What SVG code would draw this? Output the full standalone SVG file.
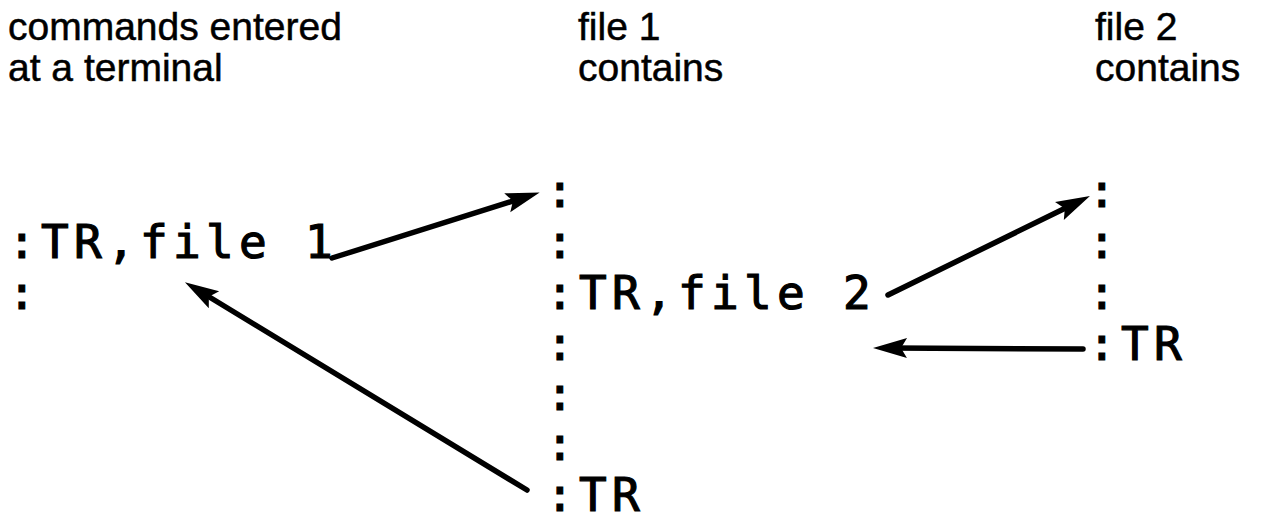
<svg xmlns="http://www.w3.org/2000/svg" width="1277" height="523" viewBox="0 0 1277 523">
<style>
.hdr{font-family:"Liberation Sans",Arial,sans-serif;font-size:39px;fill:#000;stroke:#000;stroke-width:0.5}
.code{font-family:"DejaVu Sans Mono","Liberation Mono",monospace;font-size:46px;letter-spacing:5.3px;fill:#000;stroke:#000;stroke-width:1.2}
.conn{stroke:#000;stroke-width:5.5;fill:none;stroke-linecap:round}
</style>
<defs>
<marker id="ah" viewBox="-18 -11 38 22" refX="0" refY="0" markerWidth="38" markerHeight="22" markerUnits="userSpaceOnUse" orient="auto">
<path d="M18,0 L-16,-10 L-10,0 L-16,10 Z" fill="#000"/>
</marker>
</defs>
<rect width="1277" height="523" fill="#fff"/>
<g id="header-terminal">
<text class="hdr" x="8" y="40">commands entered</text>
<text class="hdr" x="8" y="81">at a terminal</text>
</g>
<g id="header-file1">
<text class="hdr" x="578" y="40">file 1</text>
<text class="hdr" x="578" y="81">contains</text>
</g>
<g id="header-file2">
<text class="hdr" x="1095" y="40">file 2</text>
<text class="hdr" x="1095" y="81">contains</text>
</g>
<g id="terminal">
<text class="code" x="8" y="258">:TR,file 1</text>
<text class="code" x="8" y="309">:</text>
</g>
<g id="file1">
<text class="code" x="546" y="207">:</text>
<text class="code" x="546" y="258">:</text>
<text class="code" x="546" y="309">:TR,file 2</text>
<text class="code" x="546" y="360">:</text>
<text class="code" x="546" y="410">:</text>
<text class="code" x="546" y="460">:</text>
<text class="code" x="546" y="511">:TR</text>
</g>
<g id="file2">
<text class="code" x="1088" y="207">:</text>
<text class="code" x="1088" y="258">:</text>
<text class="code" x="1088" y="309">:</text>
<text class="code" x="1088" y="360">:TR</text>
</g>
<g id="connectors">
<path class="conn" d="M332,258 L522.5,198" marker-end="url(#ah)"/>
<path class="conn" d="M527,490 L200.3,291.5" marker-end="url(#ah)"/>
<path class="conn" d="M888,295 L1073.8,204" marker-end="url(#ah)"/>
<path class="conn" d="M1083,349 L891,348" marker-end="url(#ah)"/>
</g>
</svg>
